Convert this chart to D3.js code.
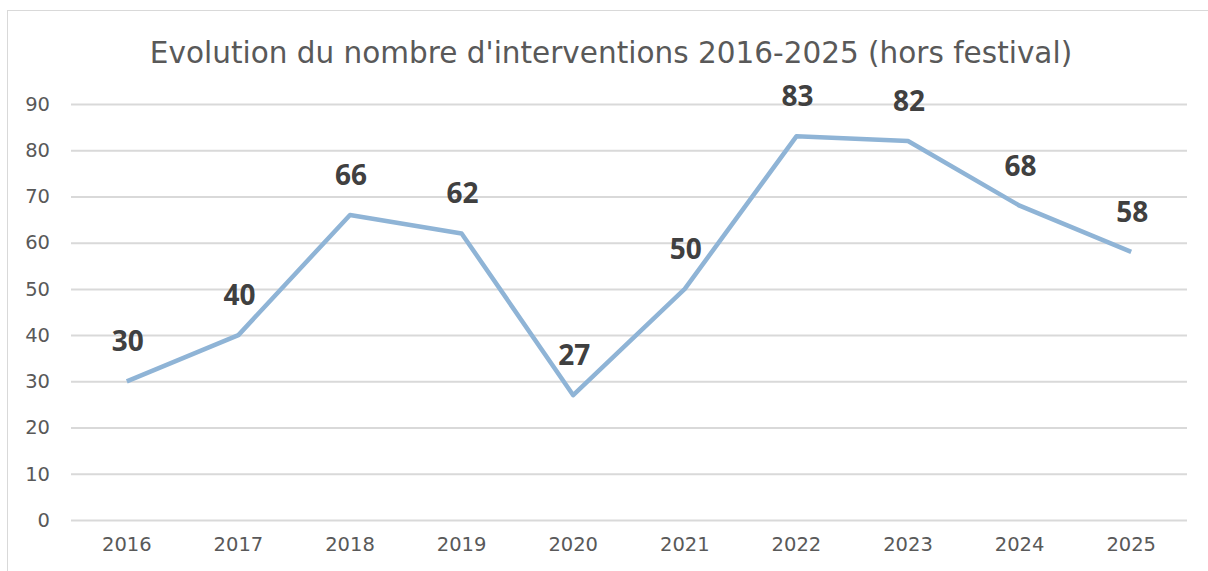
<!DOCTYPE html>
<html>
<head>
<meta charset="utf-8">
<script src="https://cdn.jsdelivr.net/npm/d3@7"></script>
<style>
  body { margin: 0; background: #fff; }
  svg { display: block; }
</style>
</head>
<body>
<div id="chart"></div>
<script>
// data
var years = ["2016", "2017", "2018", "2019", "2020", "2021", "2022", "2023", "2024", "2025"];
var interventions = [30, 40, 66, 62, 27, 50, 83, 82, 68, 58];
var yTicks = [0, 10, 20, 30, 40, 50, 60, 70, 80, 90];
var title = "Evolution du nombre d'interventions 2016-2025 (hors festival)";

var W = 1208, H = 571;
var margin = {top: 104, right: 21, bottom: 51, left: 71},
    width = W - margin.left - margin.right,
    height = H - margin.top - margin.bottom;

var svg = d3.select("#chart").append("svg")
    .attr("width", W)
    .attr("height", H);

// outer chart border
svg.append("rect")
    .attr("x", 7.5).attr("y", 10.5)
    .attr("width", W + 10).attr("height", H + 10)
    .attr("fill", "none")
    .attr("stroke", "#d9d9d9")
    .attr("stroke-width", 1);

var g = svg.append("g")
    .attr("transform", "translate(" + margin.left + "," + margin.top + ")");

var x = d3.scaleBand().domain(years).range([0, width]);
var y = d3.scaleLinear().domain([0, 90]).range([height, 0]);

var font = "'Century Gothic', 'URW Gothic', 'DejaVu Sans', sans-serif";

// gridlines
g.append("g")
    .call(d3.axisLeft(y).tickValues(yTicks).tickSize(-width).tickFormat(""))
    .call(function(s) {
      s.select(".domain").remove();
      s.selectAll("line").attr("stroke", "#d9d9d9").attr("stroke-width", 2);
    });

// y labels
g.append("g")
    .call(d3.axisLeft(y).tickValues(yTicks).tickSize(0).tickPadding(21))
    .call(function(s) {
      s.select(".domain").remove();
      s.selectAll("text")
        .style("font-family", font)
        .style("font-size", "19.5px")
        .attr("fill", "#595959");
    });

// x labels
g.append("g")
    .attr("transform", "translate(0," + height + ")")
    .call(d3.axisBottom(x).tickSize(0).tickPadding(17))
    .call(function(s) {
      s.select(".domain").remove();
      s.selectAll("text")
        .style("font-family", font)
        .style("font-size", "19.5px")
        .attr("fill", "#595959");
    });

var data = years.map(function(d, i) { return {year: d, value: interventions[i]}; });

var line = d3.line()
    .x(function(d) { return x(d.year) + x.bandwidth() / 2; })
    .y(function(d) { return y(d.value); });

g.append("path")
    .datum(data)
    .attr("fill", "none")
    .attr("stroke", "#8fb4d6")
    .attr("stroke-width", 4.5)
    .attr("stroke-linejoin", "round")
    .attr("d", line);

// value labels
g.selectAll(".label")
    .data(data)
    .enter().append("text")
    .attr("class", "label")
    .attr("x", function(d) { return x(d.year) + x.bandwidth() / 2 + 1; })
    .attr("y", function(d) { return y(d.value) - 30; })
    .attr("text-anchor", "middle")
    .style("font-family", "'Open Sans', 'Liberation Sans', sans-serif")
    .style("font-weight", "bold")
    .style("font-size", "28px")
    .attr("fill", "#404040")
    .text(function(d) { return d.value; });

// title
svg.append("text")
    .attr("x", 611)
    .attr("y", 63)
    .attr("text-anchor", "middle")
    .style("font-family", font)
    .style("font-size", "29.5px")
    .attr("fill", "#595959")
    .text(title);
</script>
</body>
</html>
